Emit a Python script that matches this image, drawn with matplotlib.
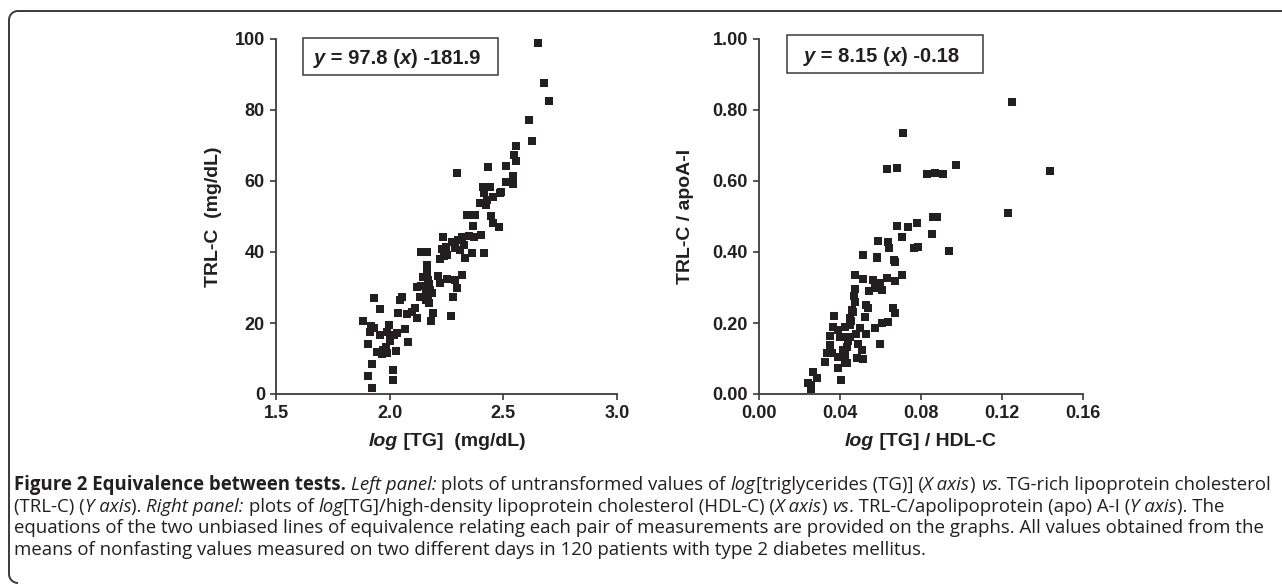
import matplotlib
matplotlib.use('Agg')
import matplotlib.pyplot as plt
import numpy as np
from matplotlib.patches import Rectangle

# ---------------- data ----------------
left_x = [1.921, 1.903, 1.921, 2.013, 2.016, 1.881, 1.932, 1.957, 1.906, 1.918,
          1.913, 1.957, 1.945, 1.965, 1.984, 1.997, 2.001, 2.028, 2.031, 2.067,
          2.082, 2.053, 2.045, 2.035, 2.077, 2.119, 2.111, 2.133, 2.119, 2.148,
          2.163, 2.177, 2.160, 2.192, 2.182, 2.170, 2.214, 2.221, 2.251, 2.287,
          2.317, 2.295, 2.280, 2.270, 2.136, 2.165, 2.221, 2.236, 2.229, 2.253,
          2.273, 2.287, 2.319, 2.327, 2.331, 2.361, 2.416, 2.339, 2.375, 2.365,
          2.371, 2.400, 2.444, 2.456, 2.481, 2.397, 2.427, 2.651, 2.679, 2.702,
          2.613, 2.624, 2.555, 2.548, 2.555, 2.511, 2.434, 2.297, 2.543, 2.511,
          2.543, 2.409, 2.441, 2.415, 2.453, 2.485, 2.423, 2.165, 2.172, 2.158,
          2.185, 2.175, 2.140, 2.170, 2.250, 2.300, 2.240, 2.310, 1.970, 1.990,
          2.000, 2.020, 1.930, 1.990, 2.100, 2.350, 2.490]
left_y = [1.8, 5.2, 8.4, 6.8, 3.9, 20.6, 27.1, 23.9, 14.1, 19.2,
          17.5, 16.6, 11.9, 11.3, 13.3, 19.4, 16.1, 12.2, 17.1, 18.2,
          14.7, 27.4, 26.5, 22.7, 22.5, 21.3, 24.1, 27.4, 30.2, 32.9,
          36.3, 29.3, 26.5, 22.9, 20.6, 32.1, 33.2, 31.4, 32.4, 32.1,
          33.5, 29.9, 27.4, 22.0, 40.1, 40.1, 37.9, 44.1, 40.8, 39.2,
          42.9, 41.0, 44.3, 42.0, 38.2, 39.6, 39.6, 50.4, 50.4, 47.3,
          44.3, 44.8, 50.1, 48.1, 47.0, 53.7, 54.6, 99.0, 87.7, 82.5,
          77.2, 71.3, 69.9, 67.3, 65.6, 64.2, 64.0, 62.2, 61.5, 59.8,
          59.2, 58.2, 58.2, 56.5, 55.6, 56.5, 53.2, 34.5, 31.0, 29.0,
          28.5, 25.5, 30.5, 27.5, 41.5, 43.5, 39.0, 40.5, 12.5, 11.5,
          15.0, 16.5, 18.5, 17.5, 23.0, 44.5, 57.0]

right_x = [0.1248, 0.0709, 0.0633, 0.0683, 0.0828, 0.0869, 0.0910, 0.0971, 0.1437, 0.1231,
           0.0860, 0.0877, 0.0680, 0.0737, 0.0778, 0.0852, 0.0704, 0.0589, 0.0638, 0.0643,
           0.0765, 0.0783, 0.0939, 0.0512, 0.0581, 0.0666, 0.0474, 0.0512, 0.0564, 0.0597,
           0.0630, 0.0671, 0.0704, 0.0573, 0.0606, 0.0474, 0.0474, 0.0528, 0.0540, 0.0523,
           0.0465, 0.0663, 0.0671, 0.0370, 0.0449, 0.0638, 0.0606, 0.0573, 0.0364, 0.0425,
           0.0499, 0.0528, 0.0350, 0.0433, 0.0490, 0.0597, 0.0350, 0.0433, 0.0359, 0.0425,
           0.0515, 0.0482, 0.0326, 0.0391, 0.0425, 0.0268, 0.0288, 0.0243, 0.0403, 0.0255,
           0.0449, 0.0400, 0.0391, 0.0449, 0.0458, 0.0416, 0.0334, 0.0433, 0.0391, 0.0507,
           0.0584, 0.0671, 0.0255, 0.0470, 0.0545, 0.0455, 0.0480, 0.0440]
right_y = [0.823, 0.734, 0.634, 0.637, 0.619, 0.623, 0.619, 0.645, 0.628, 0.511,
           0.498, 0.498, 0.474, 0.471, 0.483, 0.450, 0.441, 0.432, 0.429, 0.410,
           0.410, 0.413, 0.403, 0.392, 0.387, 0.377, 0.335, 0.323, 0.321, 0.312,
           0.326, 0.319, 0.335, 0.298, 0.293, 0.295, 0.260, 0.251, 0.241, 0.218,
           0.232, 0.241, 0.227, 0.220, 0.213, 0.204, 0.199, 0.185, 0.188, 0.190,
           0.185, 0.169, 0.163, 0.161, 0.141, 0.141, 0.138, 0.133, 0.115, 0.110,
           0.098, 0.101, 0.091, 0.072, 0.086, 0.063, 0.044, 0.032, 0.039, 0.013,
           0.161, 0.161, 0.180, 0.194, 0.237, 0.124, 0.115, 0.086, 0.105, 0.124,
           0.382, 0.373, 0.025, 0.275, 0.290, 0.205, 0.170, 0.150]

left_xticks = [1.5, 2.0, 2.5, 3.0]
left_yticks = [0, 20, 40, 60, 80, 100]
right_xticks = [0.00, 0.04, 0.08, 0.12, 0.16]
right_yticks = [0.00, 0.20, 0.40, 0.60, 0.80, 1.00]

left_xlabel = "log [TG]  (mg/dL)"
left_ylabel = "TRL-C  (mg/dL)"
right_xlabel = "log [TG] / HDL-C"
right_ylabel = "TRL-C / apoA-I"

# ---------------- figure ----------------
W, H = 1282, 584
fig = plt.figure(figsize=(W / 100, H / 100), dpi=100)
INK = '#231f20'
SPINE = '#3a3a3a'
PLOTFONT = 'Liberation Sans'


def px_axes(x0, x1, ytop, ybot):
    return fig.add_axes([x0 / W, (H - ybot) / H, (x1 - x0) / W, (ybot - ytop) / H])


# overlay in pixel coordinates for frame / caption / equation boxes
axO = fig.add_axes([0, 0, 1, 1])
axO.set_xlim(0, W)
axO.set_ylim(H, 0)
axO.axis('off')

renderer = fig.canvas.get_renderer()


def text_width(s, **kw):
    t1 = axO.text(0, 0, s + '|', **kw)
    w1 = t1.get_window_extent(renderer).width
    t1.remove()
    t2 = axO.text(0, 0, '|', **kw)
    w2 = t2.get_window_extent(renderer).width
    t2.remove()
    return w1 - w2


def draw_segments(x, y, segs, size, family):
    for s, style in segs:
        kw = dict(fontsize=size, family=family, color=INK, va='baseline', ha='left')
        kw.update(style)
        axO.text(x, y, s, **kw)
        x += text_width(s, **kw)
    return x


def style_axes(ax, xticks, yticks, xfmt, yfmt):
    ax.set_xlim(xticks[0], xticks[-1])
    ax.set_ylim(yticks[0], yticks[-1])
    ax.set_xticks(xticks)
    ax.set_yticks(yticks)
    ax.set_xticklabels([xfmt.format(v) for v in xticks])
    ax.set_yticklabels([yfmt.format(v) for v in yticks])
    for sp in ['top', 'right']:
        ax.spines[sp].set_visible(False)
    for sp in ['left', 'bottom']:
        ax.spines[sp].set_linewidth(1.3)
        ax.spines[sp].set_color(SPINE)
    ax.tick_params(direction='out', length=4, width=1.2, color=SPINE, pad=4,
                   labelsize=13, labelcolor=INK)
    for lab in ax.get_xticklabels() + ax.get_yticklabels():
        lab.set_fontweight('bold')
        lab.set_family(PLOTFONT)
    ax.patch.set_alpha(0)


axL = px_axes(276, 617, 39, 394)
axR = px_axes(759, 1083, 39, 394)

axL.scatter(left_x, left_y, marker='s', s=34, c=INK, linewidths=0, clip_on=False, zorder=3)
axR.scatter(right_x, right_y, marker='s', s=34, c=INK, linewidths=0, clip_on=False, zorder=3)

style_axes(axL, left_xticks, left_yticks, '{:.1f}', '{:.0f}')
style_axes(axR, right_xticks, right_yticks, '{:.2f}', '{:.2f}')

# axis labels
lab_kw = dict(fontsize=14, fontweight='bold', family=PLOTFONT, color=INK)
axL.set_ylabel(left_ylabel, **lab_kw)
axL.yaxis.set_label_coords(-0.158, 0.5)
axR.set_ylabel(right_ylabel, **lab_kw)
axR.yaxis.set_label_coords(-0.2, 0.5)

# x labels with italic "log"
def xlabel_segments(rest):
    return [("log", dict(fontweight='bold', style='italic')),
            (rest, dict(fontweight='bold'))]

for label, cx in [(left_xlabel, 447), (right_xlabel, 920)]:
    rest = label[3:]
    segs = xlabel_segments(rest)
    tw = sum(text_width(s, fontsize=14, family=PLOTFONT, **st) for s, st in segs)
    draw_segments(cx - tw / 2, 446, segs, 14, PLOTFONT)

# equation boxes
def eq_segments(a, b):
    bi = dict(fontweight='bold', style='italic')
    bo = dict(fontweight='bold')
    return [("y", bi), (" = " + a + " (", bo), ("x", bi), (") " + b, bo)]

axO.add_patch(Rectangle((303, 38), 195, 37, fill=False, lw=1.1, ec=SPINE))
draw_segments(314, 64, eq_segments("97.8", "-181.9"), 14.5, PLOTFONT)
axO.add_patch(Rectangle((787, 35), 196, 38, fill=False, lw=1.1, ec=SPINE))
draw_segments(804, 62, eq_segments("8.15", "-0.18"), 14.5, PLOTFONT)

# frame
r = 9
th = np.linspace(np.pi / 2, np.pi, 20)
top_corner_x = 9 + r + r * np.cos(th)
top_corner_y = 11 + r - r * np.sin(th)
th2 = np.linspace(np.pi, 1.5 * np.pi, 20)
bot_corner_x = 9 + r + r * np.cos(th2)
bot_corner_y = 583 - r - r * np.sin(th2)
fx = np.concatenate([[W], top_corner_x, bot_corner_x])
fy = np.concatenate([[11], top_corner_y, bot_corner_y])
axO.plot(fx, fy, color=SPINE, lw=1.4, solid_capstyle='butt')

# caption
CAPFONT = 'Open Sans'
N = dict()
I = dict(style='italic')
B = dict(fontweight='bold')
cap_lines = [
    [("Figure 2 Equivalence between tests.", B), (" ", N), ("Left panel:", I),
     (" plots of untransformed values of ", N), ("log", I), ("[triglycerides (TG)] (", N),
     ("X axis", I), (") ", N), ("vs", I), (". TG-rich lipoprotein cholesterol", N)],
    [("(TRL-C) (", N), ("Y axis", I), ("). ", N), ("Right panel:", I), (" plots of ", N),
     ("log", I), ("[TG]/high-density lipoprotein cholesterol (HDL-C) (", N), ("X axis", I),
     (") ", N), ("vs", I), (". TRL-C/apolipoprotein (apo) A-I (", N), ("Y axis", I),
     ("). The", N)],
    [("equations of the two unbiased lines of equivalence relating each pair of measurements "
      "are provided on the graphs. All values obtained from the", N)],
    [("means of nonfasting values measured on two different days in 120 patients with type 2 "
      "diabetes mellitus.", N)],
]
w12 = sum(text_width(s, fontsize=12, family=CAPFONT, **st) for s, st in cap_lines[0])
cap_size = 12 * 1256 / w12
for i, segs in enumerate(cap_lines):
    draw_segments(14, 490 + i * 21.7, segs, cap_size, CAPFONT)

fig.savefig('out.png', dpi=100)
